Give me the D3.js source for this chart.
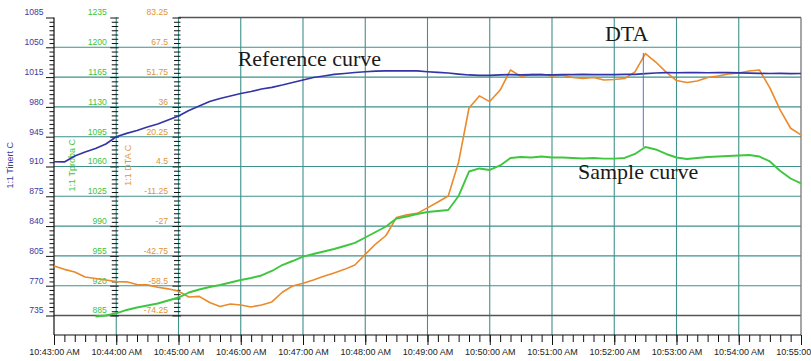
<!DOCTYPE html>
<html>
<head>
<meta charset="utf-8">
<script src="https://cdn.jsdelivr.net/npm/d3@7"></script>
<style>
  html, body { margin: 0; padding: 0; background: #fff; }
  svg { display: block; }
  .tick text { font-family: "Liberation Sans", Arial, sans-serif; }
</style>
</head>
<body>
<svg id="chart" width="811" height="361"></svg>
<script>
// ---------------- DATA ----------------
const startTime = "10:43:00";
const endTime = "10:55:00";
// sampling grid: seconds after 10:43:00, every 10 s
const sampleSeconds = d3.range(0, 721, 10);

// Reference curve (1:1 Tinert C)
const tinert = [
  915.6, 915.4, 922.3, 927.0, 931.1, 936.4, 944.9, 948.9, 952.3, 956.4,
  959.9, 964.6, 969.3, 975.8, 981.1, 986.3, 989.9, 992.8, 995.7, 998.1,
  1001.0, 1003.0, 1005.7, 1008.7, 1011.6, 1014.5, 1016.3, 1018.1, 1019.2, 1020.4,
  1021.3, 1022.0, 1022.4, 1022.2, 1022.4, 1022.2, 1021.3, 1020.6, 1019.8, 1018.6,
  1017.5, 1017.1, 1017.1, 1017.6, 1017.8, 1017.5, 1017.9, 1017.7, 1017.6, 1018.0,
  1017.8, 1018.1, 1017.9, 1018.0, 1017.8, 1018.1, 1018.3, 1019.0, 1019.8, 1020.2,
  1020.1, 1020.3, 1020.2, 1020.1, 1020.3, 1020.2, 1020.0, 1019.6, 1019.3, 1019.2,
  1019.3, 1019.1, 1019.2
];

// Sample curve (1:1 Tproba C)
const tproba = [
  null, null, null, null, 883.8, 885.0, 887.6, 891.5, 894.4, 896.7,
  899.1, 902.6, 906.1, 912.0, 915.5, 918.5, 920.8, 923.8, 926.7, 929.0,
  932.0, 937.3, 944.3, 949.0, 954.1, 957.2, 960.2, 963.1, 966.6, 970.2,
  976.6, 983.1, 989.5, 998.9, 1001.3, 1004.2, 1006.6, 1007.7, 1008.9, 1025.4,
  1054.1, 1057.7, 1055.9, 1061.2, 1070.0, 1071.2, 1070.6, 1071.7, 1070.6, 1070.6,
  1070.0, 1069.4, 1070.0, 1069.2, 1069.2, 1070.0, 1074.7, 1082.9, 1080.0, 1074.7,
  1070.6, 1068.8, 1070.0, 1071.2, 1071.7, 1072.3, 1072.9, 1073.5, 1071.7, 1065.9,
  1054.7, 1045.9, 1040.3
];

// DTA (1:1 DTA C)
const dta = [
  -48.1, -49.9, -51.3, -53.9, -54.7, -55.5, -56.4, -56.5, -57.9, -58.1,
  -59.4, -60.2, -61.5, -64.5, -64.2, -67.4, -69.5, -68.2, -68.7, -69.8,
  -68.7, -67.1, -62.0, -58.7, -57.2, -55.5, -53.6, -51.8, -49.9, -47.6,
  -42.0, -36.5, -32.0, -22.5, -21.1, -20.3, -17.4, -14.3, -11.1, 6.9,
  35.4, 41.8, 38.8, 44.9, 55.5, 52.1, 53.1, 53.4, 52.3, 52.9,
  51.5, 51.0, 51.5, 50.2, 50.5, 51.0, 54.5, 64.2, 59.7, 54.4,
  49.9, 48.9, 49.7, 51.5, 52.3, 53.4, 53.9, 55.0, 55.5, 46.0,
  34.3, 24.7, 21.2
];

// Peak marker (DTA peak joined to sample-curve peak)
const markerTime = "10:52:28";
const markerDta = 64.5;
const markerProba = 1083.0;

// Axis ticks
const tinertTicks = [735, 770, 805, 840, 875, 910, 945, 980, 1015, 1050, 1085];
const tprobaTicks = [885, 920, 955, 990, 1025, 1060, 1095, 1130, 1165, 1200, 1235];
const dtaTicks = [-74.25, -58.5, -42.75, -27, -11.25, 4.5, 20.25, 36, 51.75, 67.5, 83.25];

// Axis titles and annotations
const titleTinert = "1:1 Tinert C";
const titleTproba = "1:1 Tproba C";
const titleDta = "1:1 DTA C";
const annotations = [
  { text: "Reference curve", time: "10:45:57", value: 1028, axis: "tinert" },
  { text: "DTA", time: "10:51:51", value: 70.6, axis: "dta" },
  { text: "Sample curve", time: "10:51:25", value: 1045, axis: "tproba" }
];

// ---------------- CHART ----------------
const svg = d3.select("#chart");
const W = 811, H = 361;
const L = 54, R = 801, T = 17.5, B = 335;

const parseT = d3.timeParse("%H:%M:%S");
const t0 = parseT(startTime), t1 = parseT(endTime);
const times = sampleSeconds.map(s => new Date(t0.getTime() + s * 1000));

const x = d3.scaleTime().domain([t0, t1]).range([L, R]);
const yTinert = d3.scaleLinear().domain([712.1, 1085]).range([B, T]);
const yTproba = d3.scaleLinear().domain([862.1, 1235]).range([B, T]);
const yDta = d3.scaleLinear().domain([-84.6, 83.25]).range([B, T]);

const GRID = "#3f918c";
const BLUE = "#3434a6", GREEN = "#3fc63f", ORANGE = "#ea8a2a";
const BLUE_TXT = "#3b3ba3", GREEN_TXT = "#3cc43c", ORANGE_TXT = "#e09436";

svg.append("rect").attr("width", W).attr("height", H).attr("fill", "#fff");

// horizontal grid
svg.append("g").selectAll("line")
  .data(tinertTicks.filter(v => v > 735 && v < 1085))
  .join("line")
  .attr("x1", L).attr("x2", R)
  .attr("y1", d => yTinert(d)).attr("y2", d => yTinert(d))
  .attr("stroke", GRID).attr("stroke-width", 1.1);

// vertical grid (every minute)
const minuteTicks = d3.timeMinute.range(t0, new Date(t1.getTime() + 1));
svg.append("g").selectAll("line")
  .data(minuteTicks.filter(d => d > t0 && d < t1))
  .join("line")
  .attr("x1", d => x(d)).attr("x2", d => x(d))
  .attr("y1", T).attr("y2", B)
  .attr("stroke", GRID).attr("stroke-width", 1.1);

// dark baseline at 735 / frame
svg.append("line").attr("x1", L).attr("x2", R)
  .attr("y1", yTinert(735)).attr("y2", yTinert(735))
  .attr("stroke", "#555").attr("stroke-width", 1.3);
svg.append("line").attr("x1", x(parseT("10:45:00"))).attr("x2", R)
  .attr("y1", T).attr("y2", T).attr("stroke", "#555").attr("stroke-width", 1.3);
svg.append("line").attr("x1", R).attr("x2", R)
  .attr("y1", T).attr("y2", B).attr("stroke", "#777").attr("stroke-width", 1.3);

// ---- Left axes ----
function styleAxis(g, color, textEnd, x1) {
  g.select(".domain").remove();
  g.selectAll(".tick line").attr("stroke", "#111").attr("x1", x1);
  g.selectAll(".tick text")
    .attr("fill", color).attr("font-size", "8.6px")
    .attr("x", textEnd).attr("dy", "-2.6px");
}
function minorAxis(scale, vals, xPos, len, x1) {
  const g = svg.append("g").attr("transform", `translate(${xPos},0)`)
    .call(d3.axisLeft(scale).tickValues(vals).tickSize(len).tickFormat(""));
  g.select(".domain").remove();
  g.selectAll(".tick line").attr("stroke", "#111").attr("x1", x1);
}

// blue
const xB = L, xG = x(parseT("10:44:00")), xD = x(parseT("10:45:00"));
minorAxis(yTinert, d3.range(735, 1085, 5).filter(v => (v - 735) % 35 !== 0), xB, 4.5, 0);
const gB = svg.append("g").attr("transform", `translate(${xB},0)`)
  .call(d3.axisLeft(yTinert).tickValues(tinertTicks).tickSize(8).tickFormat(d3.format("d")));
styleAxis(gB, BLUE_TXT, -10.5, 0);
svg.append("line").attr("x1", xB).attr("x2", xB).attr("y1", T).attr("y2", B)
  .attr("stroke", "#111").attr("stroke-width", 1.2);

// green
minorAxis(yTproba, d3.range(885, 1235, 5).filter(v => (v - 885) % 35 !== 0), xG, 4.5, 2);
const gG = svg.append("g").attr("transform", `translate(${xG},0)`)
  .call(d3.axisLeft(yTproba).tickValues(tprobaTicks).tickSize(6).tickFormat(d3.format("d")));
styleAxis(gG, GREEN_TXT, -9.5, 2.5);

// DTA
const dtaMinor = d3.range(0, 71).map(i => -74.25 + i * 2.25).filter((v, i) => i % 7 !== 0);
minorAxis(yDta, dtaMinor, xD, 4.5, 2);
const gD = svg.append("g").attr("transform", `translate(${xD},0)`)
  .call(d3.axisLeft(yDta).tickValues(dtaTicks).tickSize(6).tickFormat(d => String(d)));
styleAxis(gD, ORANGE_TXT, -10.5, 2.5);

// axis titles
function vTitle(text, xPos, color) {
  svg.append("text")
    .attr("transform", `translate(${xPos},${(T + B) / 2 - 11}) rotate(-90)`)
    .attr("text-anchor", "middle").attr("dominant-baseline", "central")
    .attr("font-family", "Liberation Sans, Arial, sans-serif")
    .attr("font-size", "9px").attr("fill", color).text(text);
}
vTitle(titleTinert, 9.5, BLUE_TXT);
vTitle(titleTproba, 71.5, GREEN_TXT);
vTitle(titleDta, 127.5, ORANGE_TXT);

// ---- Bottom axis ----
const gMinorX = svg.append("g").attr("transform", `translate(0,${B})`)
  .call(d3.axisBottom(x).ticks(d3.timeSecond.every(10)).tickSize(7).tickFormat(""));
gMinorX.select(".domain").remove();
gMinorX.selectAll(".tick line").attr("stroke", "#111");
const gX = svg.append("g").attr("transform", `translate(0,${B})`)
  .call(d3.axisBottom(x).tickValues(minuteTicks).tickSize(10).tickPadding(4)
    .tickFormat(d3.timeFormat("%I:%M:%S %p")));
gX.select(".domain").remove();
gX.selectAll(".tick line").attr("stroke", "#111");
gX.selectAll(".tick text").attr("fill", "#222").attr("font-size", "9px");
svg.append("line").attr("x1", L).attr("x2", R).attr("y1", B).attr("y2", B)
  .attr("stroke", "#111").attr("stroke-width", 1.2);

// ---- Curves ----
function drawLine(values, yScale, color, w) {
  const line = d3.line()
    .defined(d => d[1] !== null)
    .x(d => x(d[0])).y(d => yScale(d[1]));
  svg.append("path")
    .datum(times.map((t, i) => [t, values[i]]))
    .attr("d", line).attr("fill", "none")
    .attr("stroke", color).attr("stroke-width", w)
    .attr("stroke-linejoin", "round");
}
drawLine(dta, yDta, ORANGE, 1.6);
drawLine(tproba, yTproba, GREEN, 1.9);
drawLine(tinert, yTinert, BLUE, 1.7);

// peak marker
const mt = parseT(markerTime);
svg.append("line")
  .attr("x1", x(mt)).attr("x2", x(mt))
  .attr("y1", yDta(markerDta)).attr("y2", yTproba(markerProba))
  .attr("stroke", "#4a78d6").attr("stroke-width", 1);

// annotations
const axes = { tinert: yTinert, tproba: yTproba, dta: yDta };
svg.append("g").selectAll("text").data(annotations).join("text")
  .attr("x", d => x(parseT(d.time)))
  .attr("y", d => axes[d.axis](d.value))
  .attr("font-family", "Liberation Serif, Times New Roman, serif")
  .attr("font-size", "22px").attr("fill", "#1a1a1a")
  .text(d => d.text);
</script>
</body>
</html>
